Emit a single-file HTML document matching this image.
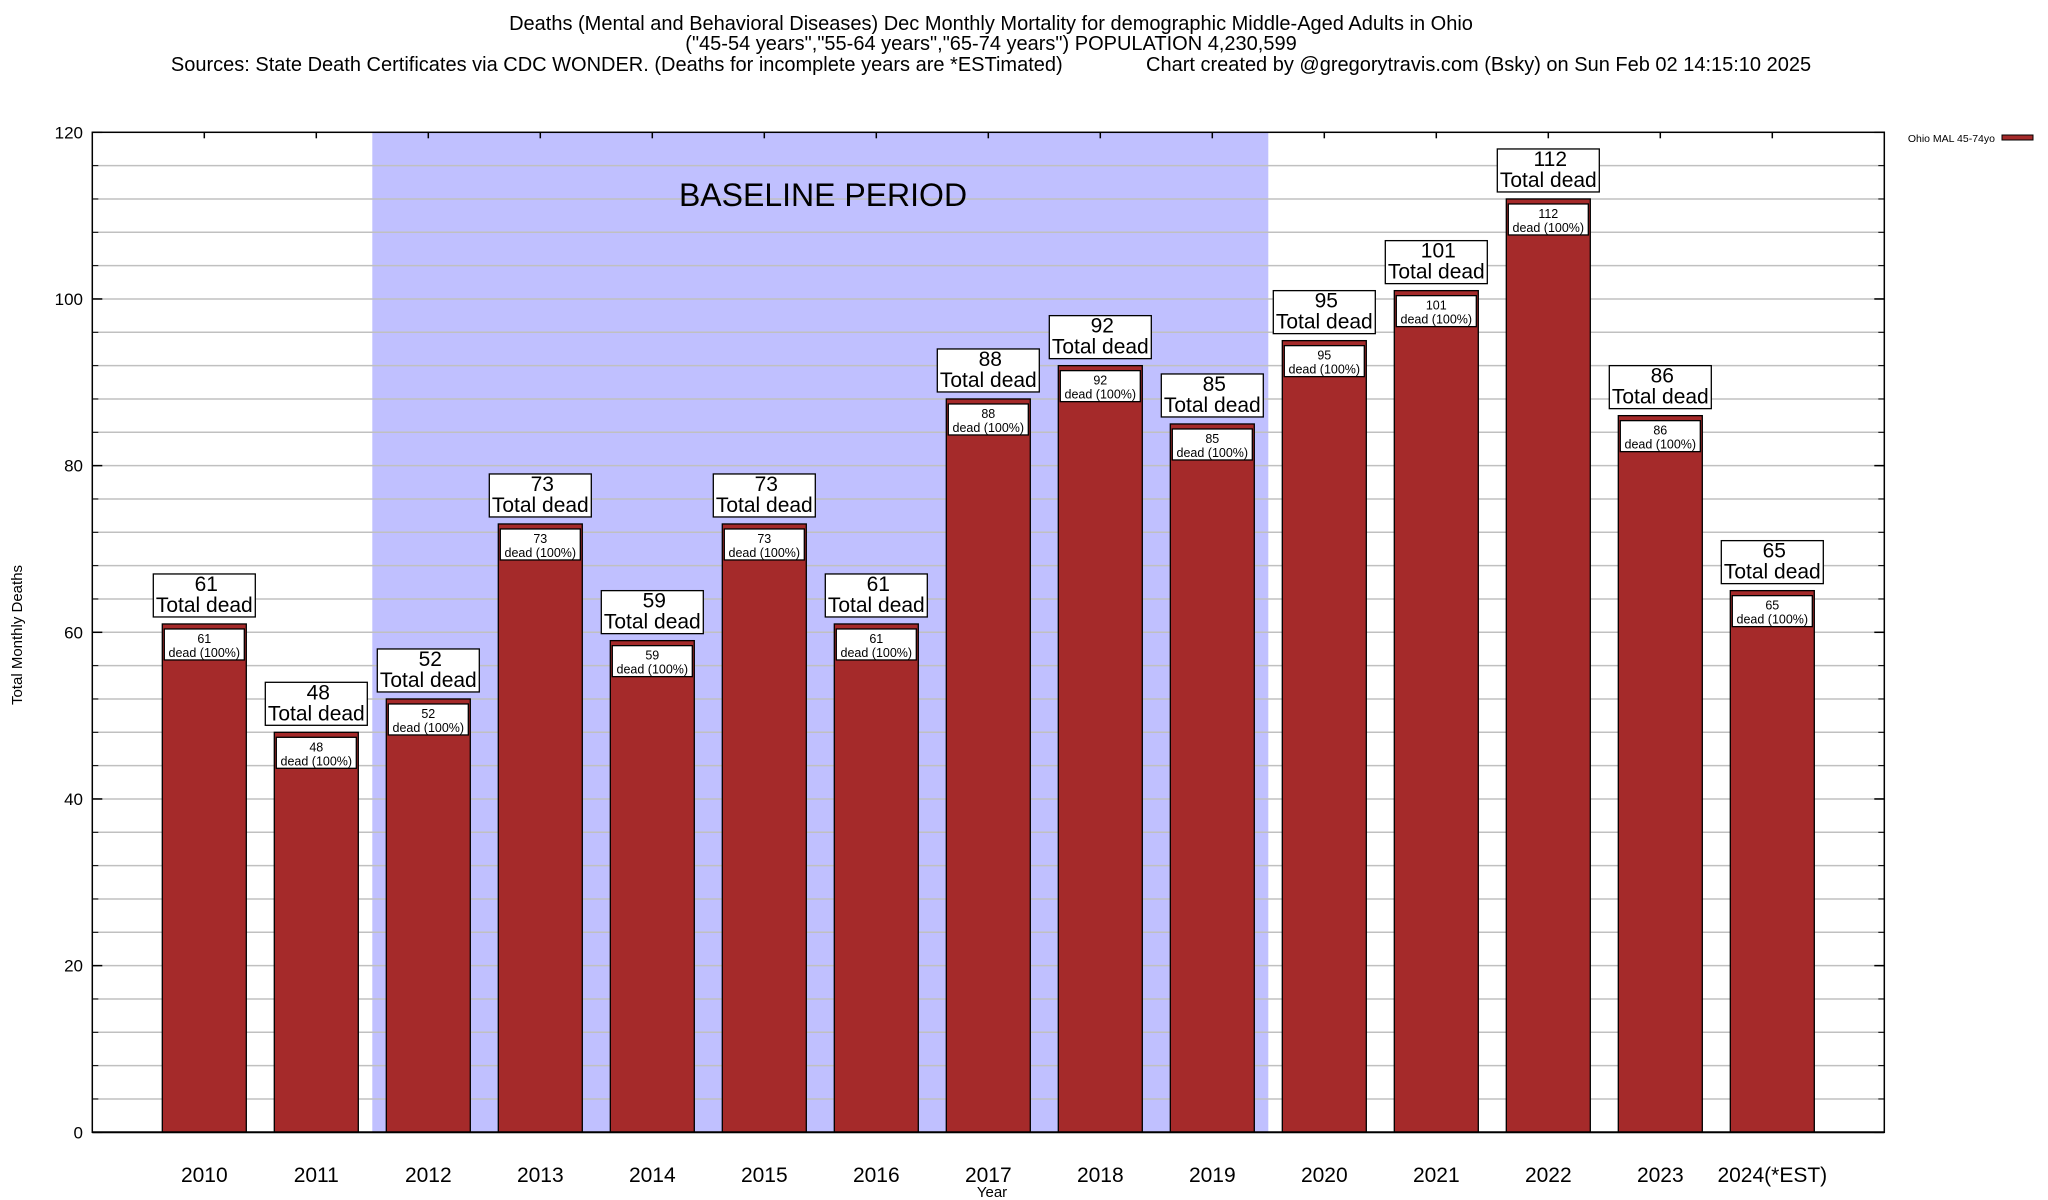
<!DOCTYPE html>
<html><head><meta charset="utf-8"><style>
html,body{margin:0;padding:0;background:#fff;}
svg{display:block;font-family:"Liberation Sans",Arial,sans-serif;}
</style></head><body>
<svg id="chart" width="2048" height="1200" xmlns="http://www.w3.org/2000/svg">
<g id="titles" font-size="20" text-anchor="middle" fill="#000">
<text x="991" y="30">Deaths (Mental and Behavioral Diseases) Dec Monthly Mortality for demographic Middle-Aged Adults in Ohio</text>
<text x="991" y="50">("45-54 years","55-64 years","65-74 years") POPULATION 4,230,599</text>
<text x="991" y="71" xml:space="preserve">Sources: State Death Certificates via CDC WONDER. (Deaths for incomplete years are *ESTimated)               Chart created by @gregorytravis.com (Bsky) on Sun Feb 02 14:15:10 2025</text>
</g>
<g id="plot"></g>
<text x="22" y="635" transform="rotate(-90 22 635)" font-size="15" text-anchor="middle">Total Monthly Deaths</text>
<text x="992" y="1197" font-size="15" text-anchor="middle">Year</text>
<g>
<text x="1995" y="142" font-size="10.5" text-anchor="end">Ohio MAL 45-74yo</text>
<rect x="2002" y="135" width="31" height="5" fill="#a52a2a" stroke="#000" stroke-width="1"/>
</g>
</svg>
<script>
const categories = ["2010","2011","2012","2013","2014","2015","2016","2017","2018","2019","2020","2021","2022","2023","2024(*EST)"];
const deaths = [61,48,52,73,59,73,61,88,92,85,95,101,112,86,65];
const yTicks = [0,20,40,60,80,100,120];
const baselineRange = [2, 9];

const NS = "http://www.w3.org/2000/svg";
const plot = document.getElementById("plot");
const L = 92.3, R = 1884.3, T = 132.3, B = 1132.3;
const yMax = 120;
const step = (R - L) / (categories.length + 1);
function xPos(i){ return L + (i + 1) * step; }
function yPos(v){ return B - v / yMax * (B - T); }
function mk(tag, attrs, parent){
  const e = document.createElementNS(NS, tag);
  for (const k in attrs) e.setAttribute(k, attrs[k]);
  (parent || plot).appendChild(e);
  return e;
}
function txt(x, y, s, size, anchor, parent){
  const t = mk("text", {x:x, y:y, "font-size":size, "text-anchor":anchor||"middle"}, parent);
  t.textContent = s;
  return t;
}
const bs = mk("rect", {x: xPos(baselineRange[0]) - step/2, y: T, width: (baselineRange[1]-baselineRange[0]+1)*step, height: B - T, fill: "#c0c0ff"});


for (let v = 4; v < yMax; v += 4) {
  const g = mk("line", {x1: L, x2: R, y1: yPos(v), y2: yPos(v), stroke: "#c0c0c0", "stroke-width": 1.5});
  
  
  mk("line", {x1: L, x2: L+6, y1: yPos(v), y2: yPos(v), stroke: "#000", "stroke-width": 1});
  mk("line", {x1: R-6, x2: R, y1: yPos(v), y2: yPos(v), stroke: "#000", "stroke-width": 1});
}
const bt = txt(823, 206, "BASELINE PERIOD", 32);


yTicks.forEach(v => {
  mk("line", {x1: L, x2: L+10, y1: yPos(v), y2: yPos(v), stroke: "#000", "stroke-width": 1.5});
  mk("line", {x1: R-10, x2: R, y1: yPos(v), y2: yPos(v), stroke: "#000", "stroke-width": 1.5});
  const t = txt(83, yPos(v) + 6, String(v), 17, "end");
  
  
});
const bw = step * 0.75;
categories.forEach((c, i) => {
  const x = xPos(i), v = deaths[i], yt = yPos(v);
  const g = mk("g", {});
  
  
  mk("rect", {x: x - bw/2, y: yt, width: bw, height: B - yt, fill: "#a52a2a", stroke: "#000", "stroke-width": 1.3}, g);
  mk("rect", {x: x - bw/2 + 2, y: yt + 5, width: bw - 4, height: 31, fill: "#fff", stroke: "#000", "stroke-width": 1.3}, g);
  txt(x, yt + 19, String(v), 12.5, "middle", g);
  txt(x, yt + 33, "dead (100%)", 12.5, "middle", g);
  const lb = mk("g", {});
  
  
  mk("rect", {x: x - 51, y: yt - 50, width: 102, height: 43, fill: "#fff", stroke: "#000", "stroke-width": 1.3}, lb);
  txt(x + 2, yt - 33, String(v), 21, "middle", lb);
  txt(x, yt - 12, "Total dead", 21, "middle", lb);
  mk("line", {x1: x, x2: x, y1: T, y2: T+6, stroke: "#000", "stroke-width": 1.5});
  const xl = txt(x, 1182, c, 21);
  
  
});
const fr = mk("rect", {x: L, y: T, width: R - L, height: B - T, fill: "none", stroke: "#000", "stroke-width": 1.5});


mk("line", {x1: L, x2: R, y1: B, y2: B, stroke: "#000", "stroke-width": 2});
</script>
</body></html>
